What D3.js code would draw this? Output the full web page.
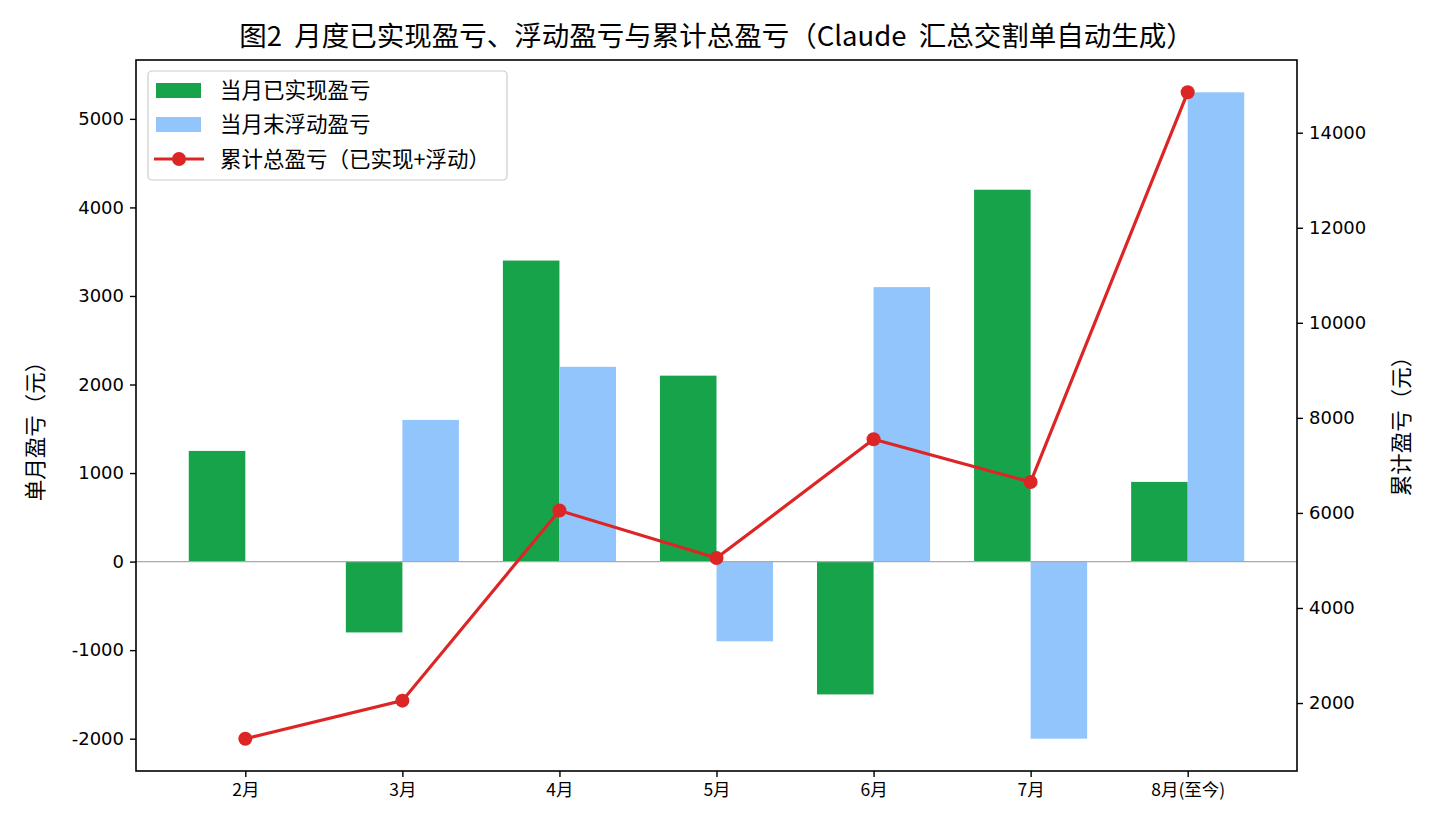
<!DOCTYPE html>
<html><head><meta charset="utf-8">
<script src="https://cdn.jsdelivr.net/npm/d3@7"></script>
<style>body{margin:0;background:#fff;} svg{display:block;}</style>
</head><body>
<svg id="chart" width="1440" height="832"></svg>
<script>
const categories = ["2月","3月","4月","5月","6月","7月","8月(至今)"];
const realized = [1250, -800, 3400, 2100, -1500, 4200, 900];
const floating = [0, 1600, 2200, -900, 3100, -2000, 5300];
const cumulative = [1250, 2050, 6050, 5050, 7550, 6650, 14850];
const leftTicks = [-2000,-1000,0,1000,2000,3000,4000,5000];
const rightTicks = [2000,4000,6000,8000,10000,12000,14000];
const title = "图2 月度已实现盈亏、浮动盈亏与累计总盈亏（Claude 汇总交割单自动生成）";
const legendLabels = ["当月已实现盈亏","当月末浮动盈亏","累计总盈亏（已实现+浮动）"];

const L=136,R=1297,T=60,B=771;
const svg=d3.select("#chart");
const cjk="'Noto Sans CJK SC','Noto Sans',sans-serif";
const dv="'DejaVu Sans',sans-serif";
const bw=0.36;
const x=d3.scaleLinear().domain([-0.696,6.696]).range([L,R]);
const y=d3.scaleLinear().domain([-2365,5665]).range([B,T]);
const y2=d3.scaleLinear().domain([570,15530]).range([B,T]);
const green="#16a34a", blue="#93c5fd", red="#dc2626";

const g=svg.append("g");
g.selectAll(".r").data(realized).enter().append("rect")
 .attr("x",(d,i)=>x(i-bw)).attr("width",(d,i)=>x(i)-x(i-bw))
 .attr("y",d=>y(Math.max(0,d))).attr("height",d=>Math.abs(y(d)-y(0)))
 .attr("fill",green);
g.selectAll(".f").data(floating).enter().append("rect")
 .attr("x",(d,i)=>x(i)).attr("width",(d,i)=>x(i+bw)-x(i))
 .attr("y",d=>y(Math.max(0,d))).attr("height",d=>Math.abs(y(d)-y(0)))
 .attr("fill",blue);
g.append("line").attr("x1",L).attr("x2",R).attr("y1",y(0)).attr("y2",y(0))
 .attr("stroke","#aaaaaa").attr("stroke-width",1.2);
const line=d3.line().x((d,i)=>x(i)).y(d=>y2(d));
g.append("path").datum(cumulative).attr("d",line).attr("fill","none")
 .attr("stroke",red).attr("stroke-width",3.2);
g.selectAll(".pt").data(cumulative).enter().append("circle")
 .attr("cx",(d,i)=>x(i)).attr("cy",d=>y2(d)).attr("r",7).attr("fill",red);

// frame
svg.append("rect").attr("x",L).attr("y",T).attr("width",R-L).attr("height",B-T)
 .attr("fill","none").attr("stroke","#000").attr("stroke-width",1.6);

// axes
const la=svg.append("g").attr("transform",`translate(${L},0)`)
 .call(d3.axisLeft(y).tickValues(leftTicks).tickSize(6).tickPadding(6).tickFormat(d=>d));
la.select(".domain").remove();
la.selectAll("text").attr("font-family",dv).attr("font-size",18).attr("fill","#000");
la.selectAll("line").attr("stroke-width",1.4);
const ra=svg.append("g").attr("transform",`translate(${R},0)`)
 .call(d3.axisRight(y2).tickValues(rightTicks).tickSize(6).tickPadding(6).tickFormat(d=>d));
ra.select(".domain").remove();
ra.selectAll("text").attr("font-family",dv).attr("font-size",18).attr("fill","#000");
ra.selectAll("line").attr("stroke-width",1.4);
const xa=svg.append("g").attr("transform",`translate(0,${B})`)
 .call(d3.axisBottom(x).tickValues(d3.range(categories.length)).tickSize(6).tickPadding(7).tickFormat(i=>categories[i]));
xa.select(".domain").remove();
xa.selectAll("text").attr("font-family",cjk).attr("font-size",17.5).attr("fill","#000");
xa.selectAll("line").attr("stroke-width",1.4);

// titles
svg.append("text").attr("x",(L+R)/2).attr("y",46).attr("text-anchor","middle")
 .attr("font-family",cjk).attr("font-size",27.5).attr("word-spacing",6).text(title);
svg.append("text").attr("transform",`translate(43,426) rotate(-90)`).attr("text-anchor","middle")
 .attr("font-family",cjk).attr("font-size",21.5).text("单月盈亏（元）");
svg.append("text").attr("transform",`translate(1409,421) rotate(-90)`).attr("text-anchor","middle")
 .attr("font-family",cjk).attr("font-size",21.5).text("累计盈亏（元）");

// legend
const lg=svg.append("g");
lg.append("rect").attr("x",148).attr("y",71).attr("width",359).attr("height",109).attr("rx",4)
 .attr("fill","#fff").attr("fill-opacity",0.8).attr("stroke","#cccccc").attr("stroke-width",1.2);
const rows=[90,124,159];
lg.append("rect").attr("x",156).attr("y",rows[0]-7).attr("width",45).attr("height",15).attr("fill",green);
lg.append("rect").attr("x",156).attr("y",rows[1]-7).attr("width",45).attr("height",15).attr("fill",blue);
lg.append("line").attr("x1",154).attr("x2",204).attr("y1",rows[2]).attr("y2",rows[2]).attr("stroke",red).attr("stroke-width",3.2);
lg.append("circle").attr("cx",179).attr("cy",rows[2]).attr("r",7).attr("fill",red);
lg.selectAll(".lt").data(legendLabels).enter().append("text")
 .attr("x",220).attr("y",(d,i)=>rows[i]).attr("dy","0.35em")
 .attr("font-family",cjk).attr("font-size",21.5).text(d=>d);
</script>
</body></html>
